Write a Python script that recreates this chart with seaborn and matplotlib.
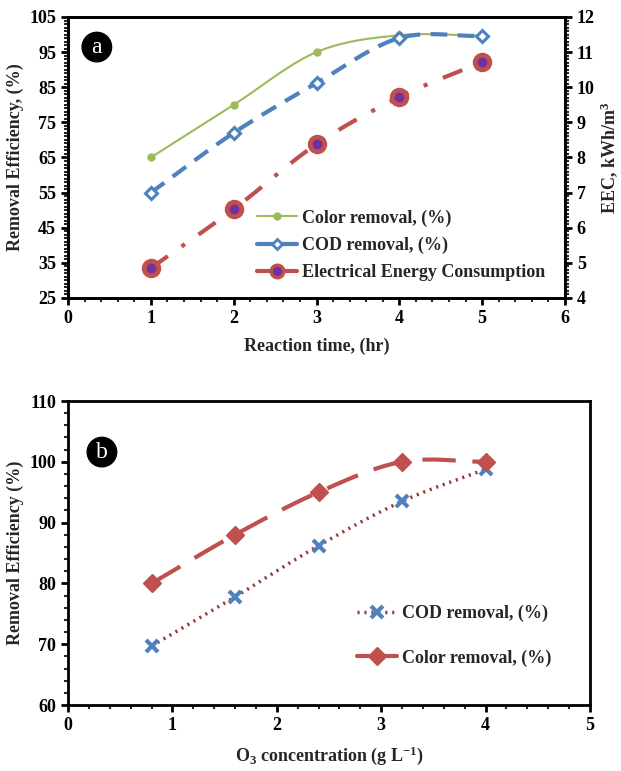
import matplotlib
matplotlib.use("Agg")
import matplotlib.pyplot as plt
from matplotlib.lines import Line2D
from matplotlib.ticker import MultipleLocator, FixedLocator
import seaborn as sns
import numpy as np

# panel a: reaction time
time_hr = [1, 2, 3, 4, 5]
color_removal_a = [65, 80, 95, 99.8, 99.7]
cod_removal_a = [55, 72, 86.2, 99, 99.6]
eec_kwh = [4.85, 6.53, 8.38, 9.72, 10.72]
ticks_a = [25, 35, 45, 55, 65, 75, 85, 95, 105]

# panel b: ozone concentration
o3_conc = [0.8, 1.6, 2.4, 3.2, 4.0]
cod_removal_b = [69.7, 77.8, 86.2, 93.5, 98.8]
color_removal_b = [80, 88, 95, 100, 100]

GREEN = "#9BBB59"
BLUE = "#4F81BD"
RED = "#C0504D"
DARKRED = "#953735"
PURPLE = "#7030A0"


def smooth(x, y, n=30):
    """Catmull-Rom curve through the points, like Excel's smoothed line."""
    x = np.asarray(x, float)
    y = np.asarray(y, float)
    px = np.concatenate([[2 * x[0] - x[1]], x, [2 * x[-1] - x[-2]]])
    py = np.concatenate([[2 * y[0] - y[1]], y, [2 * y[-1] - y[-2]]])
    t = np.linspace(0, 1, n)
    xs, ys = [], []
    for i in range(1, len(px) - 2):
        for p, out in ((px, xs), (py, ys)):
            p0, p1, p2, p3 = p[i - 1], p[i], p[i + 1], p[i + 2]
            seg = 0.5 * (2 * p1 + (-p0 + p2) * t
                         + (2 * p0 - 5 * p1 + 4 * p2 - p3) * t ** 2
                         + (-p0 + 3 * p1 - 3 * p2 + p3) * t ** 3)
            out.extend(seg if i == 1 else seg[1:])
    return np.array(xs), np.array(ys)


sns.set_style("white")
plt.rcParams["font.family"] = ["Liberation Serif", "DejaVu Serif"]
plt.rcParams["font.weight"] = "bold"
plt.rcParams["axes.labelweight"] = "bold"
plt.rcParams["mathtext.fontset"] = "custom"
plt.rcParams["mathtext.rm"] = "Liberation Serif:bold"
plt.rcParams["mathtext.it"] = "Liberation Serif:bold"
plt.rcParams["mathtext.bf"] = "Liberation Serif:bold"
plt.rcParams["axes.unicode_minus"] = False

fig = plt.figure(figsize=(6.21, 7.71), dpi=100)
ax1 = fig.add_axes([68 / 621, 1 - 298 / 771, 497 / 621, 281 / 771])
ax3 = fig.add_axes([68 / 621, 1 - 705 / 771, 522 / 621, 304 / 771])
ax2 = ax1.twinx()

FS = 13


def style_axis(ax):
    for s in ax.spines.values():
        s.set_linewidth(2)
        s.set_color("black")
    ax.tick_params(which="major", direction="out", length=5, width=2,
                   labelsize=FS, colors="black")
    ax.tick_params(which="minor", direction="out", length=3, width=1.5)
    ax.tick_params(axis="x", which="both", bottom=True, top=False)
    ax.tick_params(axis="y", which="both", left=True)


# ---- panel a ----
xs, ys = smooth(time_hr, color_removal_a)
sns.lineplot(x=xs, y=ys, ax=ax1, color=GREEN, linewidth=1.5, sort=False,
             estimator=None)
ax1.plot(time_hr, color_removal_a, "o", color=GREEN, markersize=5)

xs, ys = smooth(time_hr, cod_removal_a)
sns.lineplot(x=xs, y=ys, ax=ax1, color=BLUE, linewidth=3, sort=False,
             estimator=None)
ax1.lines[-1].set_dashes([4, 2.5])
ax1.plot(time_hr, cod_removal_a, "D", color=BLUE, markersize=6.5,
         markerfacecolor="white", markeredgewidth=2.2)

xs, ys = smooth(time_hr, eec_kwh)
sns.lineplot(x=xs, y=ys, ax=ax2, color=RED, linewidth=3, sort=False,
             estimator=None)
ax2.lines[-1].set_dashes([5, 4, 1, 4])
ax2.plot(time_hr, eec_kwh, "o", color=RED, markersize=13)
ax2.plot(time_hr, eec_kwh, "o", color=PURPLE, markersize=6)

ax1.set_xlim(0, 6)
ax1.set_ylim(25, 105)
ax2.set_ylim(4, 12)
ax1.xaxis.set_major_locator(MultipleLocator(1))
ax1.xaxis.set_minor_locator(MultipleLocator(0.2))
ax1.yaxis.set_major_locator(FixedLocator(ticks_a))
ax1.yaxis.set_minor_locator(MultipleLocator(1))
ax2.yaxis.set_major_locator(MultipleLocator(1))
ax2.yaxis.set_minor_locator(MultipleLocator(0.1))
style_axis(ax1)
style_axis(ax2)
ax2.tick_params(axis="y", which="both", left=False, right=True)
ax1.tick_params(axis="y", which="both", right=False)
ax1.set_xlabel("Reaction time, (hr)", fontsize=FS, labelpad=8)
ax1.set_ylabel("Removal Efficiency, (%)", fontsize=FS, labelpad=4)
ax2.set_ylabel("EEC, kWh/m$^3$", fontsize=FS, labelpad=2)

h_a = [
    Line2D([], [], color=GREEN, lw=1.5, marker="o", markersize=5),
    Line2D([], [], color=BLUE, lw=3, marker="D", markersize=5.5,
           markerfacecolor="white", markeredgewidth=2),
    Line2D([], [], color=RED, lw=3, marker="o", markersize=9,
           markerfacecolor=PURPLE, markeredgecolor=RED, markeredgewidth=2.5),
]
ax2.legend(h_a, ["Color removal, (%)", "COD removal, (%)",
                 "Electrical Energy Consumption"],
           loc="upper left", bbox_to_anchor=(0.355, 0.36), frameon=False,
           fontsize=FS, handlelength=2.2, handletextpad=0.3,
           labelspacing=0.55, borderpad=0.2)

ax1.text(0.058, 0.893, "a", transform=ax1.transAxes, color="white",
         fontsize=17, fontweight="normal", ha="center", va="center",
         bbox=dict(boxstyle="circle,pad=0.18", fc="black", ec="black"))

# ---- panel b ----
xs, ys = smooth(o3_conc, cod_removal_b)
sns.lineplot(x=xs, y=ys, ax=ax3, color=DARKRED, linewidth=2.5, sort=False,
             estimator=None)
ax3.lines[-1].set_dashes([0.6, 1.4])
ax3.plot(o3_conc, cod_removal_b, "x", color=BLUE, markersize=9,
         markeredgewidth=3)

xs, ys = smooth(o3_conc, color_removal_b)
sns.lineplot(x=xs, y=ys, ax=ax3, color=RED, linewidth=3, sort=False,
             estimator=None)
ax3.lines[-1].set_dashes([8, 4])
ax3.plot(o3_conc, color_removal_b, "D", color=RED, markersize=9)

ax3.set_xlim(0, 5)
ax3.set_ylim(60, 110)
ax3.xaxis.set_major_locator(MultipleLocator(1))
ax3.xaxis.set_minor_locator(MultipleLocator(0.2))
ax3.yaxis.set_major_locator(MultipleLocator(10))
ax3.yaxis.set_minor_locator(MultipleLocator(2))
style_axis(ax3)
ax3.tick_params(axis="y", which="both", right=False)
ax3.set_xlabel("O$_3$ concentration (g L$^{-1}$)", fontsize=FS, labelpad=8)
ax3.set_ylabel("Removal Efficiency (%)", fontsize=FS, labelpad=4)

h_b = [
    Line2D([], [], color=DARKRED, lw=2.5, dashes=[0.6, 1.4], marker="x",
           markersize=9, markeredgewidth=3, markeredgecolor=BLUE),
    Line2D([], [], color=RED, lw=3, marker="D", markersize=9),
]
ax3.legend(h_b, ["COD removal, (%)", "Color removal, (%)"],
           loc="upper left", bbox_to_anchor=(0.53, 0.37), frameon=False,
           fontsize=FS, handlelength=2.2, handletextpad=0.3,
           labelspacing=1.5, borderpad=0.2)

ax3.text(0.065, 0.832, "b", transform=ax3.transAxes, color="white",
         fontsize=17, fontweight="normal", ha="center", va="center",
         bbox=dict(boxstyle="circle,pad=0.18", fc="black", ec="black"))

fig.savefig("out.png", dpi=100)
